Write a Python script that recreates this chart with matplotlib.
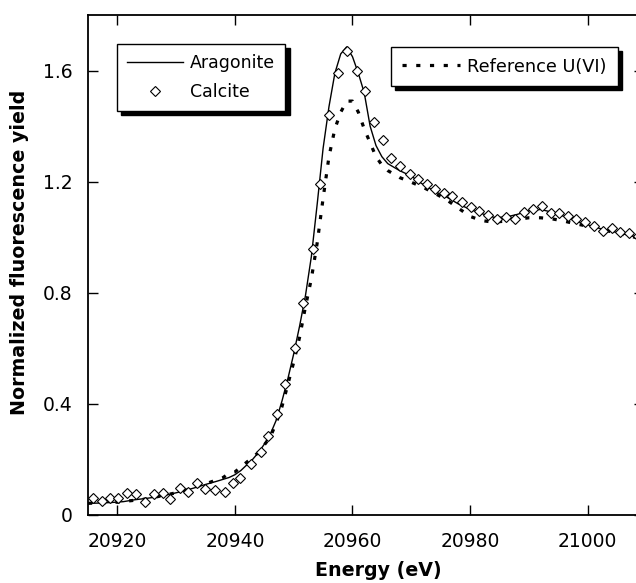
import numpy as np
import matplotlib
matplotlib.use('Agg')
import matplotlib.pyplot as plt

plt.rcParams['font.family'] = ['DejaVu Sans']

# aragonite (solid line)
arag_e = [20915, 20917, 20919, 20921, 20923, 20925, 20927, 20929, 20931, 20933,
          20935, 20937, 20939, 20940, 20941, 20942, 20943, 20944, 20945, 20946,
          20947, 20948, 20949, 20950, 20951, 20952, 20953, 20954, 20955, 20956,
          20957, 20958, 20959, 20960, 20961, 20962, 20963, 20964, 20965, 20966,
          20968, 20970, 20972, 20974, 20976, 20978, 20980, 20982, 20984, 20986,
          20988, 20990, 20992, 20994, 20996, 20998, 21000, 21002, 21004, 21006,
          21008, 21010]
arag_y = [0.042, 0.043, 0.045, 0.048, 0.055, 0.060, 0.066, 0.075, 0.085, 0.097,
          0.110, 0.122, 0.135, 0.145, 0.160, 0.180, 0.200, 0.225, 0.255, 0.290,
          0.340, 0.410, 0.490, 0.580, 0.680, 0.790, 0.930, 1.120, 1.320, 1.470,
          1.590, 1.660, 1.685, 1.650, 1.590, 1.520, 1.400, 1.330, 1.290, 1.265,
          1.240, 1.220, 1.190, 1.165, 1.145, 1.120, 1.100, 1.085, 1.072, 1.072,
          1.082, 1.095, 1.100, 1.090, 1.075, 1.058, 1.045, 1.032, 1.022, 1.012,
          1.002, 0.995]

# calcite (open diamonds)
calc_e = [20915.9, 20917.3, 20918.7, 20920.1, 20921.6, 20923.1, 20924.7, 20926.2,
          20927.7, 20929.0, 20930.6, 20932.0, 20933.5, 20934.9, 20936.6, 20938.3,
          20939.7, 20940.9, 20942.8, 20944.5, 20945.7, 20947.1, 20948.5, 20950.2,
          20951.6, 20953.3, 20954.5, 20956.0, 20957.6, 20959.0, 20960.7, 20962.1,
          20963.6, 20965.2, 20966.5, 20968.0, 20969.8, 20971.2, 20972.7, 20974.1,
          20975.5, 20977.0, 20978.7, 20980.1, 20981.6, 20983.0, 20984.6, 20986.1,
          20987.7, 20989.1, 20990.7, 20992.2, 20993.7, 20995.1, 20996.6, 20998.1,
          20999.6, 21001.1, 21002.6, 21004.1, 21005.6, 21007.1, 21008.6]
calc_y = [0.060, 0.051, 0.060, 0.060, 0.080, 0.074, 0.048, 0.075,
          0.080, 0.057, 0.096, 0.083, 0.114, 0.093, 0.089, 0.083,
          0.115, 0.133, 0.185, 0.226, 0.286, 0.363, 0.470, 0.600,
          0.762, 0.958, 1.190, 1.440, 1.590, 1.672, 1.600, 1.527,
          1.414, 1.349, 1.286, 1.256, 1.226, 1.211, 1.192, 1.174,
          1.159, 1.150, 1.128, 1.110, 1.093, 1.080, 1.065, 1.072,
          1.065, 1.092, 1.100, 1.114, 1.089, 1.087, 1.077, 1.067,
          1.054, 1.040, 1.024, 1.033, 1.018, 1.016, 1.005]

# reference U(VI) (dotted)
ref_e = [20915, 20920, 20925, 20930, 20935, 20938, 20939, 20940, 20942, 20944,
         20946, 20947, 20948, 20949, 20950, 20951, 20952, 20953, 20954, 20955,
         20956, 20957, 20958, 20959, 20960, 20961, 20962, 20963, 20964, 20965,
         20966, 20968, 20970, 20972, 20974, 20976, 20978, 20980, 20982, 20984,
         20986, 20988, 20990, 20992, 20994, 20996, 20998, 21000, 21002, 21004,
         21006, 21008, 21010]
ref_y = [0.042, 0.046, 0.058, 0.080, 0.112, 0.135, 0.150, 0.155, 0.190, 0.225,
         0.280, 0.330, 0.390, 0.470, 0.550, 0.640, 0.750, 0.850, 0.980, 1.140,
         1.290, 1.390, 1.450, 1.490, 1.490, 1.450, 1.390, 1.340, 1.290, 1.260,
         1.240, 1.215, 1.198, 1.180, 1.158, 1.135, 1.105, 1.075, 1.060, 1.054,
         1.058, 1.064, 1.070, 1.070, 1.066, 1.058, 1.048, 1.040, 1.030, 1.020,
         1.010, 1.000, 0.995]

xticks = [20920, 20940, 20960, 20980, 21000]
yticks = [0, 0.4, 0.8, 1.2, 1.6]
ytick_labels = ['0', '0.4', '0.8', '1.2', '1.6']

W, H = 636, 583
fig = plt.figure(figsize=(W / 100, H / 100), dpi=100)
ax = fig.add_axes([88 / W, 1 - 515 / H, 556 / W, 500 / H])

l1, = ax.plot(arag_e, arag_y, color='k', lw=1.0, label='Aragonite', zorder=2)
l3, = ax.plot(ref_e, ref_y, color='k', lw=2.3, dashes=(1.3, 3.0),
              label='Reference U(VI)', zorder=3)
l2, = ax.plot(calc_e, calc_y, ls='none', marker='D', ms=5.0, mfc='white',
              mec='k', mew=0.8, label='Calcite', zorder=4)

ax.set_xlim(20915, 21009.6)
ax.set_ylim(0, 1.8)
ax.set_xticks(xticks)
ax.set_xticklabels([str(t) for t in xticks])
ax.set_yticks(yticks)
ax.set_yticklabels(ytick_labels)
ax.tick_params(direction='in', length=7.2, width=1.0, labelsize=13.5,
               top=True, right=True)
ax.tick_params(axis='x', pad=12.5)
ax.tick_params(axis='y', pad=11)
for s in ax.spines.values():
    s.set_linewidth(1.3)

fig.text(378 / W, 1 - 570 / H, 'Energy (eV)', ha='center', va='center',
         fontsize=13.7, fontweight='bold')
fig.text(20 / W, 1 - 252 / H, 'Normalized fluorescence yield', ha='center',
         va='center', rotation=90, fontsize=13.7, fontweight='bold')

shadow = {'ox': 3, 'oy': -3, 'color': 'k', 'alpha': 1}
leg1 = ax.legend(handles=[l1, l2], loc='upper left',
                 bbox_to_anchor=(117 / W, 1 - 44 / H),
                 bbox_transform=fig.transFigure, borderaxespad=0,
                 fontsize=12.5, handlelength=3.2, handletextpad=0.4,
                 borderpad=0.6, labelspacing=0.6, fancybox=False,
                 shadow=shadow, framealpha=1, edgecolor='k')
leg1.get_frame().set_linewidth(1.0)
ax.add_artist(leg1)
leg2 = ax.legend(handles=[l3], loc='upper left',
                 bbox_to_anchor=(391 / W, 1 - 47 / H),
                 bbox_transform=fig.transFigure, borderaxespad=0,
                 fontsize=12.8, handlelength=3.3, handletextpad=0.4,
                 borderpad=0.6, fancybox=False, shadow=shadow,
                 framealpha=1, edgecolor='k')
leg2.get_frame().set_linewidth(1.0)

fig.savefig('out.png', dpi=100)
